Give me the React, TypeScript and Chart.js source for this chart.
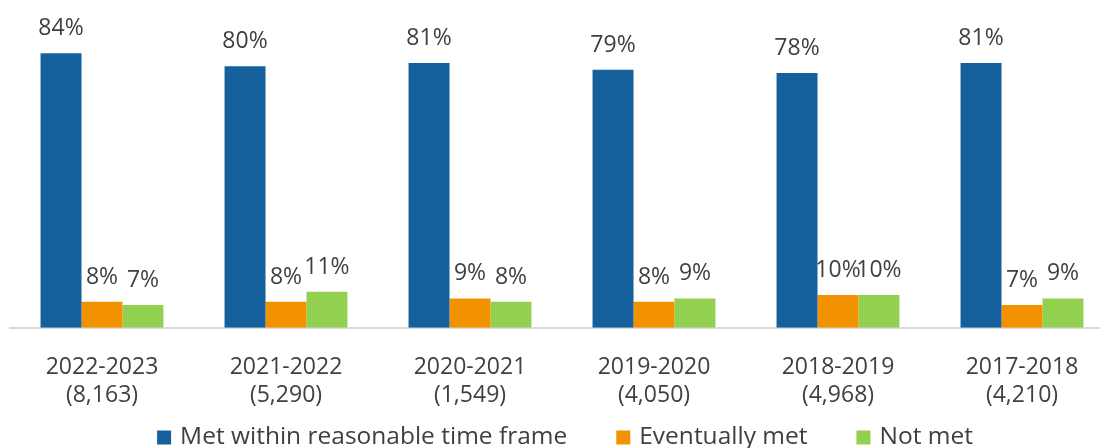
import React, { useEffect, useRef } from "react";
import { Chart, registerables } from "chart.js";

Chart.register(...registerables);

const categories: string[][] = [
  ["2022-2023", "(8,163)"],
  ["2021-2022", "(5,290)"],
  ["2020-2021", "(1,549)"],
  ["2019-2020", "(4,050)"],
  ["2018-2019", "(4,968)"],
  ["2017-2018", "(4,210)"],
];
const metValues = [84, 80, 81, 79, 78, 81];
const eventuallyValues = [8, 8, 9, 8, 10, 7];
const notMetValues = [7, 11, 8, 9, 10, 9];
const seriesNames = ["Met within reasonable time frame", "Eventually met", "Not met"];
const seriesColors = ["#16609E", "#F29200", "#92D050"];

const FONT = "'Open Sans'";
const TEXT_COLOR = "#404040";

const dataLabelPlugin = {
  id: "dataLabels",
  afterDatasetsDraw(chart: any) {
    const ctx = chart.ctx;
    ctx.save();
    ctx.font = `23px ${FONT}`;
    ctx.fillStyle = TEXT_COLOR;
    ctx.textAlign = "center";
    ctx.textBaseline = "alphabetic";
    chart.data.datasets.forEach((ds: any, i: number) => {
      const meta = chart.getDatasetMeta(i);
      meta.data.forEach((bar: any, j: number) => {
        ctx.fillText(`${ds.data[j]}%`, bar.x, bar.y - 18);
      });
    });
    ctx.restore();
  },
};

const legendPlugin = {
  id: "bottomLegend",
  afterDraw(chart: any) {
    const ctx = chart.ctx;
    ctx.save();
    ctx.font = `24.5px ${FONT}`;
    const box = 14;
    const gap = 9;
    const spacing = 49;
    const widths = chart.data.datasets.map((ds: any) => ctx.measureText(ds.label).width);
    const total =
      widths.reduce((a: number, w: number) => a + box + gap + w, 0) + spacing * (widths.length - 1);
    let x = 565 - total / 2;
    const cy = 437.5;
    chart.data.datasets.forEach((ds: any, i: number) => {
      ctx.fillStyle = ds.backgroundColor;
      ctx.fillRect(x, cy - box / 2, box, box);
      ctx.fillStyle = TEXT_COLOR;
      ctx.textAlign = "left";
      ctx.textBaseline = "middle";
      ctx.fillText(ds.label, x + box + gap, cy);
      x += box + gap + widths[i] + spacing;
    });
    ctx.restore();
  },
};

export default function App() {
  const canvasRef = useRef<HTMLCanvasElement | null>(null);

  useEffect(() => {
    if (!canvasRef.current) return;
    Chart.defaults.font.family = FONT;
    const chart = new Chart(canvasRef.current, {
      type: "bar",
      data: {
        labels: categories,
        datasets: [
          { label: seriesNames[0], data: metValues, backgroundColor: seriesColors[0] },
          { label: seriesNames[1], data: eventuallyValues, backgroundColor: seriesColors[1] },
          { label: seriesNames[2], data: notMetValues, backgroundColor: seriesColors[2] },
        ],
      },
      options: {
        responsive: false,
        animation: false,
        layout: { padding: { left: 10, right: 0, top: 1, bottom: 13 } },
        datasets: {
          bar: { categoryPercentage: 0.668, barPercentage: 1.0 },
        },
        plugins: {
          legend: { display: false },
          tooltip: { enabled: false },
        },
        scales: {
          x: {
            grid: { display: false, drawTicks: false },
            border: { display: true, color: "#d9d9d9", width: 2 },
            ticks: {
              color: TEXT_COLOR,
              padding: 26,
              font: { family: FONT, size: 23, lineHeight: 1.2 },
              maxRotation: 0,
              autoSkip: false,
            },
          },
          y: {
            display: false,
            min: 0,
            max: 100,
          },
        },
      },
      plugins: [dataLabelPlugin, legendPlugin],
    } as any);
    return () => chart.destroy();
  }, []);

  return (
    <div
      style={{
        position: "absolute",
        left: 0,
        top: 0,
        width: 1100,
        height: 448,
        overflow: "hidden",
        background: "#ffffff",
      }}
    >
      <canvas ref={canvasRef} width={1114} height={448} style={{ display: "block" }} />
    </div>
  );
}
